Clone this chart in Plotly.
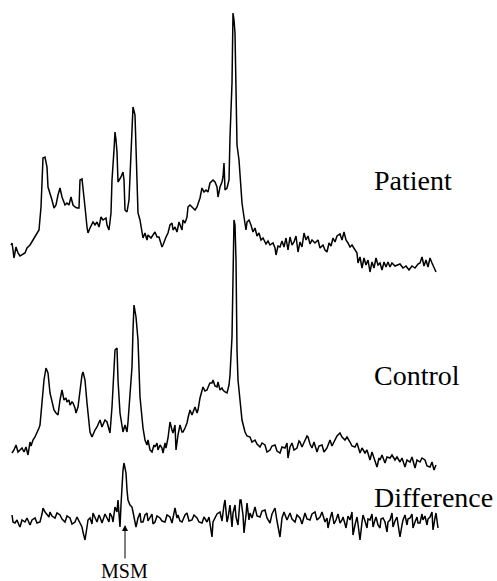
import plotly.graph_objects as go

# ---- Patient spectrum (channel, intensity) ----
patient_x = [11,12,13,14,16,18,20,22,25,27,30,33,35,37,39,41,42,43,45,47,48,50,52,54,56,58,60,62,63,65,67,69,71,73,75,77,79,80,82,83,85,87,88,90,93,95,97,99,101,103,106,107,109,111,112,114,115,116,117,118,121,123,124,125,127,129,130,132,133,135,136,137,138,140,142,143,145,147,148,151,153,155,157,159,162,163,166,168,170,172,173,175,177,179,182,183,185,187,188,190,193,195,197,200,202,204,206,208,210,213,215,217,218,220,222,223,224,225,227,229,230,232,233,234,235,236,237,239,241,242,244,246,247,249,251,253,255,257,259,261,263,266,268,270,273,275,276,278,280,282,284,286,288,290,292,294,296,298,300,302,304,306,308,310,312,315,318,320,323,325,327,329,331,333,335,337,340,342,344,346,348,350,352,355,357,358,360,362,364,366,368,370,372,374,376,378,380,382,384,386,388,390,392,395,398,400,403,406,409,412,415,418,420,422,424,426,428,430,432,434,436]
patient_y = [25,27,20,12,23,17,14,15,17,22,25,30,33,37,40,63,93,112,113,103,83,77,70,62,65,75,82,73,70,65,67,65,73,65,63,62,62,90,91,83,63,43,37,42,48,45,48,43,53,50,52,45,40,57,90,120,138,130,118,88,93,98,90,60,58,70,97,143,163,155,117,97,57,50,40,32,37,30,35,32,35,38,33,33,23,25,33,37,45,47,40,43,38,48,40,50,47,53,63,65,62,60,63,72,82,78,80,78,87,90,88,83,73,83,88,93,107,80,82,90,133,187,257,250,237,187,125,110,77,67,53,40,48,50,45,38,42,34,37,30,32,26,29,25,27,22,15,24,23,29,23,32,20,33,25,28,34,18,28,23,37,30,34,26,30,27,30,22,25,20,18,27,24,32,28,34,36,30,38,30,27,23,25,20,17,7,13,2,12,5,10,-2,8,2,12,5,7,0,8,3,8,3,7,4,5,6,2,4,0,4,2,6,7,13,4,10,3,12,7,2,-2]

# ---- Control spectrum ----
control_x = [12,14,16,18,20,22,24,26,28,30,31,33,35,37,39,40,42,44,46,48,50,52,54,56,58,60,62,63,64,66,67,69,70,72,73,75,76,78,80,82,83,85,87,89,90,92,94,95,97,98,100,102,103,105,107,109,110,112,114,115,117,118,120,122,123,125,127,128,130,132,133,134,136,138,140,142,143,145,147,148,150,152,154,155,157,158,160,162,163,165,166,168,170,172,173,175,176,178,180,182,183,185,187,188,190,192,193,195,197,198,200,202,203,205,207,209,210,212,213,215,217,218,220,222,223,225,227,229,230,232,233,234,235,236,237,238,240,242,244,245,247,250,252,255,257,260,262,265,267,270,272,275,277,280,282,285,287,288,290,292,294,297,299,300,302,305,307,308,310,312,314,317,319,322,324,327,329,330,332,335,337,340,342,345,347,350,352,355,357,360,362,365,367,370,372,373,375,377,379,380,382,385,387,390,392,395,397,400,402,405,407,410,412,415,417,420,422,425,427,430,432,434,436]
control_y = [12,15,20,13,15,17,13,18,10,23,19,25,28,32,37,40,65,85,97,92,72,62,55,52,50,65,75,70,65,67,63,65,60,63,62,57,52,58,75,90,93,85,62,45,33,28,33,35,38,40,45,38,40,45,43,37,32,58,95,115,117,85,52,37,33,40,33,43,72,98,135,160,148,125,68,45,37,25,20,25,15,13,20,18,22,15,20,17,12,22,17,27,43,35,32,40,15,30,40,33,33,37,42,47,55,50,53,58,52,55,67,73,78,74,75,80,82,82,85,79,78,83,75,77,75,73,72,80,90,128,175,245,240,205,115,85,65,45,37,33,29,28,23,25,21,18,22,20,13,15,19,20,14,12,18,17,22,7,18,22,15,17,24,23,18,25,29,28,21,17,23,13,19,20,13,17,24,25,19,25,29,32,28,25,28,23,19,18,22,12,17,12,15,5,13,10,4,-2,7,5,10,2,8,7,10,5,8,3,7,-2,5,3,8,-3,5,3,7,5,-1,-2,3,-5,0]

# ---- Difference spectrum ----
diff_x = [12,13,15,17,19,20,22,25,27,30,32,35,37,40,42,43,45,47,49,50,52,55,57,60,62,65,67,70,72,75,77,80,82,83,85,87,88,90,92,93,95,97,99,100,102,103,105,107,109,110,112,113,115,117,118,119,120,121,122,123,124,125,126,127,128,130,132,133,134,136,138,140,141,143,145,147,148,150,152,153,155,157,160,162,165,167,170,172,175,177,178,180,182,185,187,189,192,194,197,199,202,204,207,209,212,213,215,217,220,222,224,225,227,228,230,232,233,235,236,238,240,241,243,244,246,247,249,250,252,255,257,260,262,265,267,270,272,275,277,280,282,284,287,290,292,295,297,300,302,305,307,310,312,315,317,320,322,325,327,328,330,332,334,336,338,340,342,343,345,346,348,350,352,353,355,357,358,360,362,363,365,367,368,370,372,373,375,376,378,380,381,383,385,387,388,390,392,393,395,397,398,400,402,403,405,407,408,410,412,413,415,417,418,420,422,423,425,427,428,430,432,433,435,436,438]
diff_y = [5,-2,-3,0,-5,-7,0,-2,2,-5,0,2,-3,-2,6,12,8,5,3,8,4,2,7,5,1,-2,4,2,-4,-2,3,-3,-7,-12,-20,-7,0,2,-4,7,3,-2,5,3,-3,0,6,2,-2,7,3,-2,13,8,20,6,-7,15,37,50,57,53,47,30,20,15,13,8,3,-7,2,7,-2,-2,5,7,-1,2,6,-4,-2,4,2,-1,-2,5,3,-3,12,2,5,-1,-2,5,7,-1,0,5,2,-2,-3,3,-2,3,-17,-2,2,6,8,-1,15,20,-2,2,15,-7,7,15,3,-5,20,20,5,-13,5,17,0,7,2,13,4,3,9,10,2,-3,6,12,-1,-17,2,8,0,7,1,-2,5,2,-4,7,1,0,6,8,0,3,8,-2,2,-8,1,8,-4,0,6,-3,0,3,-4,-8,4,0,8,-15,-5,3,-4,-20,-2,5,-1,-8,1,0,6,-7,0,3,-5,-8,1,2,-2,-12,-2,0,7,-7,-1,3,-4,-17,-5,0,5,-5,1,2,6,-8,-2,3,-3,-3,6,0,4,-5,1,3,8,-10,2,7,-8]

labels = ["Patient", "Control", "Difference"]
marker_label = "MSM"

# vertical stacking offsets of the three spectra (layout, not data)
OFF = {"Patient": 250, "Control": 55, "Difference": 0}
series = {"Patient": (patient_x, patient_y),
          "Control": (control_x, control_y),
          "Difference": (diff_x, diff_y)}

fig = go.Figure()
for name in labels:
    xs, ys = series[name]
    fig.add_trace(go.Scatter(x=xs, y=[v + OFF[name] for v in ys], mode="lines",
                             line=dict(color="black", width=1.5), showlegend=False,
                             hoverinfo="skip"))

SERIF = "Liberation Serif"
font = dict(family=SERIF, size=28, color="black")
label_pos = {"Patient": 340, "Control": 145, "Difference": 23}
for name in labels:
    fig.add_annotation(x=372, y=label_pos[name], text=name, showarrow=False,
                       xanchor="left", yanchor="middle", font=font)

# MSM arrow + label
msm_x = diff_x[diff_y.index(max(diff_y))]
fig.add_annotation(x=msm_x + 1, y=-5, ax=msm_x + 1, ay=-40, axref="x", ayref="y",
                   xref="x", yref="y", text="", showarrow=True,
                   arrowhead=2, arrowsize=1.2, arrowwidth=1, arrowcolor="black")
fig.add_annotation(x=msm_x, y=-51, text=marker_label, showarrow=False,
                   xanchor="center", yanchor="middle",
                   font=dict(family=SERIF, size=20, color="black"))

fig.update_layout(width=497, height=581, margin=dict(l=0, r=0, t=0, b=0),
                  paper_bgcolor="white", plot_bgcolor="white",
                  xaxis=dict(range=[0, 497], visible=False, fixedrange=True),
                  yaxis=dict(range=[-61, 520], visible=False, fixedrange=True))
fig.write_html("out.html", config={"displayModeBar": False},
               post_script="document.body.style.margin='0';document.body.style.overflow='hidden';")
